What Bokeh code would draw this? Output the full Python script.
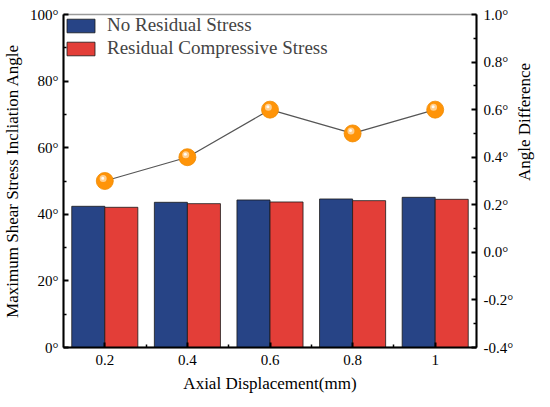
import math
from bokeh.plotting import figure
from bokeh.models import (Range1d, LinearAxis, FixedTicker, PrintfTickFormatter,
                          ColumnDataSource, Legend, LegendItem)
from bokeh.transform import dodge
from bokeh.embed import file_html
from bokeh.resources import INLINE

# ---- data ----
displacement = [0.2, 0.4, 0.6, 0.8, 1.0]
x_tick_labels = ["0.2", "0.4", "0.6", "0.8", "1"]
no_residual = [42.4, 43.6, 44.3, 44.6, 45.1]
residual_comp = [42.1, 43.2, 43.7, 44.1, 44.5]
angle_diff = [0.3, 0.4, 0.6, 0.5, 0.6]
left_ticks = [0, 20, 40, 60, 80, 100]
right_ticks = [-0.4, -0.2, 0.0, 0.2, 0.4, 0.6, 0.8, 1.0]

FONT = "'Liberation Serif', 'Times New Roman', serif"
BLUE = "#274486"
RED = "#E33E38"
ORANGE = "#FF9408"

src = ColumnDataSource(dict(x=displacement, a=no_residual, b=residual_comp, d=angle_diff))

p = figure(frame_width=413, frame_height=333, output_backend="svg", toolbar_location=None,
           x_range=Range1d(0.1, 1.1), y_range=Range1d(0, 100),
           min_border_left=58, min_border_right=10, min_border_top=14, min_border_bottom=52)
p.extra_y_ranges = {"diff": Range1d(-0.4, 1.0)}
p.xgrid.visible = False
p.ygrid.visible = False
p.outline_line_color = "#9a9a9a"
p.outline_line_width = 1.5
p.background_fill_color = "white"
p.border_fill_color = "white"

bw = 0.08
r1 = p.vbar(x=dodge("x", -bw / 2), top="a", width=bw, bottom=0, source=src,
            fill_color=BLUE, line_color="#1a1a1a", line_width=0.8)
r2 = p.vbar(x=dodge("x", bw / 2), top="b", width=bw, bottom=0, source=src,
            fill_color=RED, line_color="#1a1a1a", line_width=0.8)

p.line(x="x", y="d", source=src, y_range_name="diff", line_color="#555555", line_width=1.2)
p.scatter(x="x", y="d", source=src, y_range_name="diff", size=17,
          fill_color=ORANGE, line_color="#F08A00", line_width=0.8)
p.scatter(x=dodge("x", -0.004), y=dodge("d", 0.01), source=src, y_range_name="diff", size=7,
          fill_color="white", fill_alpha=0.55, line_color=None)
p.scatter(x=dodge("x", -0.005), y=dodge("d", 0.012), source=src, y_range_name="diff", size=3,
          fill_color="white", fill_alpha=0.9, line_color=None)

def style_axis(ax):
    ax.axis_line_width = 2
    ax.axis_line_color = "black"
    ax.major_tick_in = 5
    ax.major_tick_out = 0
    ax.minor_tick_in = 3
    ax.minor_tick_out = 0
    ax.major_tick_line_width = 2
    ax.minor_tick_line_width = 1.5
    ax.major_tick_line_color = "black"
    ax.minor_tick_line_color = "black"
    ax.major_label_text_font = FONT
    ax.major_label_text_font_size = "15px"
    ax.major_label_text_color = "black"
    ax.axis_label_text_font = FONT
    ax.axis_label_text_font_size = "17px"
    ax.axis_label_text_font_style = "normal"
    ax.axis_label_text_color = "black"

# x axis
xa = p.xaxis[0]
style_axis(xa)
xa.ticker = FixedTicker(ticks=displacement, minor_ticks=[0.3, 0.5, 0.7, 0.9])
xa.major_label_overrides = {d: lab for d, lab in zip(displacement, x_tick_labels)}
xa.axis_label = "Axial Displacement(mm)"
xa.major_label_standoff = 7
xa.axis_label_standoff = 6

# left axis
ya = p.yaxis[0]
style_axis(ya)
ya.ticker = FixedTicker(ticks=left_ticks, minor_ticks=[10, 30, 50, 70, 90])
ya.formatter = PrintfTickFormatter(format="%d°")
ya.axis_label = "Maximum Shear Stress Incliation Angle"
ya.major_label_standoff = 5
ya.axis_label_standoff = 5

# right axis
ra = LinearAxis(y_range_name="diff")
style_axis(ra)
ra.ticker = FixedTicker(ticks=right_ticks,
                        minor_ticks=[-0.3, -0.1, 0.1, 0.3, 0.5, 0.7, 0.9])
ra.formatter = PrintfTickFormatter(format="%.1f°")
ra.axis_label = "Angle Difference"
ra.axis_label_orientation = math.pi / 2
ra.major_label_standoff = 7
ra.axis_label_standoff = 8
p.add_layout(ra, "right")

legend = Legend(items=[LegendItem(label="No Residual Stress", renderers=[r1]),
                       LegendItem(label="Residual Compressive Stress", renderers=[r2])],
                location="top_left")
legend.margin = 0
legend.padding = 6
legend.spacing = 1
legend.glyph_width = 35
legend.glyph_height = 17
legend.label_standoff = 9
legend.label_text_font = FONT
legend.label_text_font_size = "19px"
legend.label_height = 17
legend.border_line_color = None
legend.background_fill_alpha = 0
p.add_layout(legend)

open("out.html", "w").write(file_html(p, INLINE))
